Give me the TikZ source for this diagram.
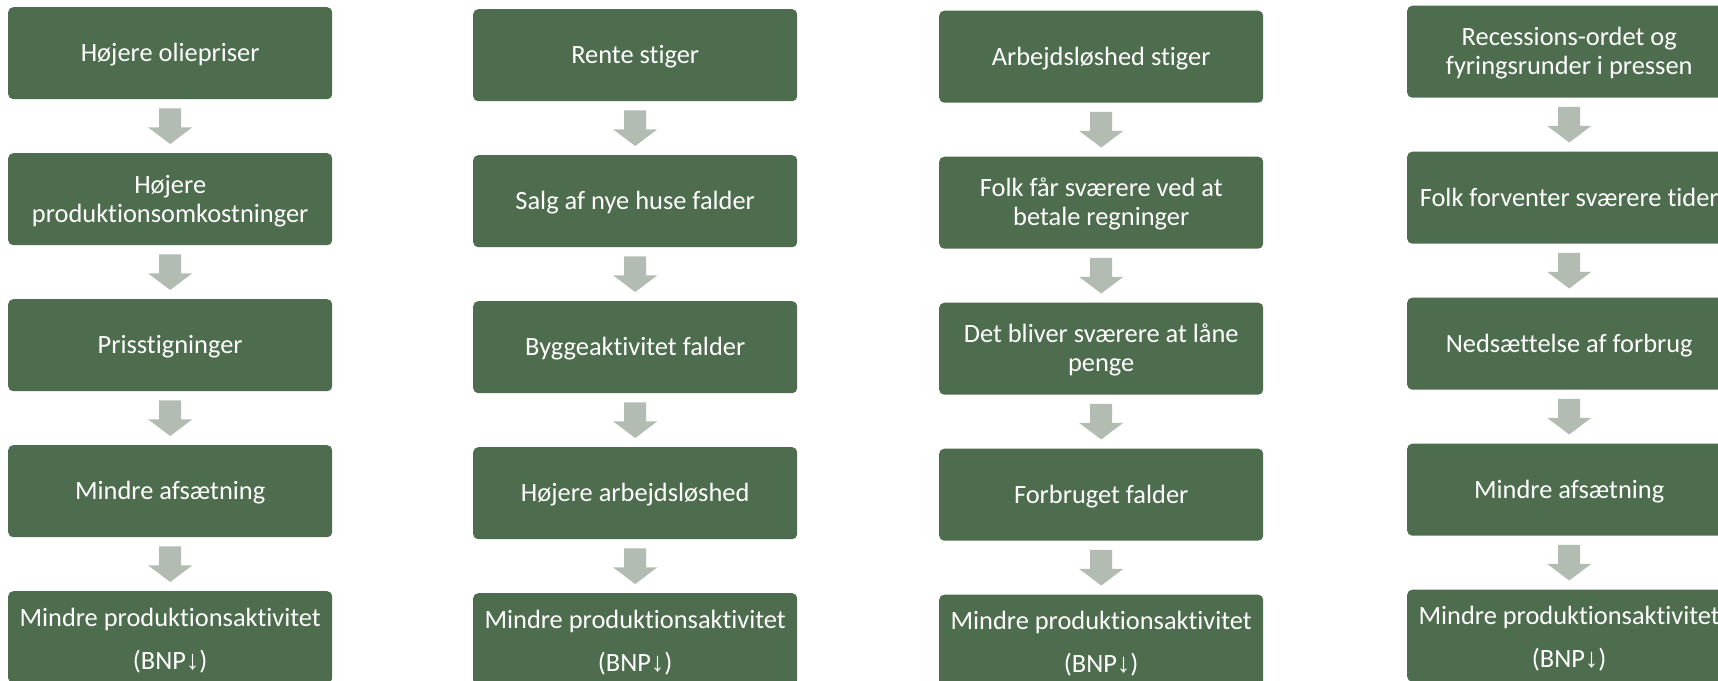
\documentclass[tikz,border=0pt]{standalone}
\usepackage{fontspec}
\setmainfont{Carlito}[Ligatures=NoCommon]
\newfontfamily\arrowfont{Liberation Sans}
\usetikzlibrary{calc}
\definecolor{boxgreen}{HTML}{4E6D4E}
\definecolor{arrowgrey}{HTML}{B2BCB2}
\tikzset{
  flowbox/.style={rectangle, rounded corners=5pt, fill=boxgreen, text=white,
    minimum width=324pt, minimum height=92pt, inner sep=0pt, anchor=north west,
    align=center, font=\fontsize{26.4pt}{29pt}\selectfont},
  oneline/.style={flowbox, text height=17pt, text depth=0pt},
  twoline/.style={flowbox, text height=46pt, text depth=0pt},
  lastbox/.style={flowbox, font=\fontsize{26.4pt}{43pt}\selectfont, text height=64pt, text depth=0pt},
}
\newcommand\flowarrow[2]{%
  \fill[arrowgrey] ($(#1.south)+(-11,9)$) -- ($(#1.south)+(11,9)$) -- ($(#1.south)+(11,28)$)
    -- ($(#1.south)+(22,28)$) -- ($(#2.north)+(0,-9)$) -- ($(#1.south)+(-22,28)$)
    -- ($(#1.south)+(-11,28)$) -- cycle;}
\newcommand\bnp{(BNP{\arrowfont\fontsize{27pt}{43pt}\selectfont↓})}
\begin{document}
\begin{tikzpicture}[x=1pt,y=-1pt]
\useasboundingbox (0,0) rectangle (1718,680);
\clip (0,0) rectangle (1718,680);
% column 1
\node[oneline] (a1) at (8,7) {Højere oliepriser};
\node[twoline] (a2) at (8,153) {Højere\\produktionsomkostninger};
\node[oneline] (a3) at (8,299) {Prisstigninger};
\node[oneline] (a4) at (8,445) {Mindre afsætning};
\node[lastbox] (a5) at (8,591) {Mindre produktionsaktivitet\\\bnp};
% column 2
\node[oneline] (b1) at (473,9) {Rente stiger};
\node[oneline] (b2) at (473,155) {Salg af nye huse falder};
\node[oneline] (b3) at (473,301) {Byggeaktivitet falder};
\node[oneline] (b4) at (473,447) {Højere arbejdsløshed};
\node[lastbox] (b5) at (473,593) {Mindre produktionsaktivitet\\\bnp};
% column 3
\node[oneline] (c1) at (939,10.5) {Arbejdsløshed stiger};
\node[twoline] (c2) at (939,156.5) {Folk får sværere ved at\\betale regninger};
\node[twoline] (c3) at (939,302.5) {Det bliver sværere at låne\\penge};
\node[oneline] (c4) at (939,448.5) {Forbruget falder};
\node[lastbox] (c5) at (939,594.5) {Mindre produktionsaktivitet\\\bnp};
% column 4
\node[twoline] (d1) at (1407,5.5) {Recessions-ordet og\\fyringsrunder i pressen};
\node[oneline] (d2) at (1407,151.5) {Folk forventer sværere tider};
\node[oneline] (d3) at (1407,297.5) {Nedsættelse af forbrug};
\node[oneline] (d4) at (1407,443.5) {Mindre afsætning};
\node[lastbox] (d5) at (1407,589.5) {Mindre produktionsaktivitet\\\bnp};
% arrows
\foreach \c in {a,b,c,d}{
  \flowarrow{\c1}{\c2}
  \flowarrow{\c2}{\c3}
  \flowarrow{\c3}{\c4}
  \flowarrow{\c4}{\c5}
}
\end{tikzpicture}
\end{document}
